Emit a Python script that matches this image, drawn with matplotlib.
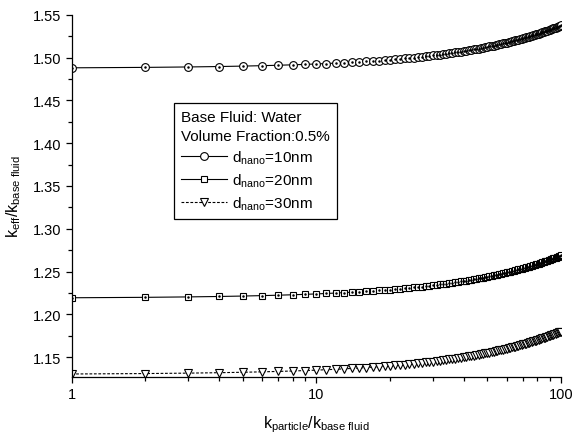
import matplotlib
matplotlib.use("Agg")
import matplotlib.pyplot as plt
from matplotlib.ticker import MultipleLocator, FixedLocator, NullFormatter

plt.rcParams["font.family"] = ["Liberation Sans", "DejaVu Sans"]
plt.rcParams["mathtext.fontset"] = "custom"
plt.rcParams["mathtext.rm"] = "Liberation Sans"
plt.rcParams["mathtext.it"] = "Liberation Sans"

# ── Data ─────────────────────────────────────────────────────────────────────
k_ratio = list(range(1, 101))

keff_10nm = [
    1.4880, 1.4885, 1.4890, 1.4895, 1.4900, 1.4905, 1.4910, 1.4915, 1.4920, 1.4925,
    1.4930, 1.4935, 1.4940, 1.4945, 1.4950, 1.4955, 1.4960, 1.4965, 1.4970, 1.4975,
    1.4980, 1.4985, 1.4990, 1.4995, 1.5000, 1.5005, 1.5010, 1.5015, 1.5020, 1.5025,
    1.5030, 1.5035, 1.5040, 1.5045, 1.5050, 1.5055, 1.5060, 1.5065, 1.5070, 1.5075,
    1.5080, 1.5085, 1.5090, 1.5095, 1.5100, 1.5105, 1.5110, 1.5115, 1.5120, 1.5125,
    1.5130, 1.5135, 1.5140, 1.5145, 1.5150, 1.5155, 1.5160, 1.5165, 1.5170, 1.5175,
    1.5180, 1.5185, 1.5190, 1.5195, 1.5200, 1.5205, 1.5210, 1.5215, 1.5220, 1.5225,
    1.5230, 1.5235, 1.5240, 1.5245, 1.5250, 1.5255, 1.5260, 1.5265, 1.5270, 1.5275,
    1.5280, 1.5285, 1.5290, 1.5295, 1.5300, 1.5305, 1.5310, 1.5315, 1.5320, 1.5325,
    1.5330, 1.5335, 1.5340, 1.5345, 1.5350, 1.5355, 1.5360, 1.5365, 1.5370, 1.5375,
]

keff_20nm = [
    1.2195, 1.2200, 1.2205, 1.2210, 1.2215, 1.2220, 1.2225, 1.2230, 1.2235, 1.2240,
    1.2245, 1.2250, 1.2255, 1.2260, 1.2265, 1.2270, 1.2275, 1.2280, 1.2285, 1.2290,
    1.2295, 1.2300, 1.2305, 1.2310, 1.2315, 1.2320, 1.2325, 1.2330, 1.2335, 1.2340,
    1.2345, 1.2350, 1.2355, 1.2360, 1.2365, 1.2370, 1.2375, 1.2380, 1.2385, 1.2390,
    1.2395, 1.2400, 1.2405, 1.2410, 1.2415, 1.2420, 1.2425, 1.2430, 1.2435, 1.2440,
    1.2445, 1.2450, 1.2455, 1.2460, 1.2465, 1.2470, 1.2475, 1.2480, 1.2485, 1.2490,
    1.2495, 1.2500, 1.2505, 1.2510, 1.2515, 1.2520, 1.2525, 1.2530, 1.2535, 1.2540,
    1.2545, 1.2550, 1.2555, 1.2560, 1.2565, 1.2570, 1.2575, 1.2580, 1.2585, 1.2590,
    1.2595, 1.2600, 1.2605, 1.2610, 1.2615, 1.2620, 1.2625, 1.2630, 1.2635, 1.2640,
    1.2645, 1.2650, 1.2655, 1.2660, 1.2665, 1.2670, 1.2675, 1.2680, 1.2685, 1.2690,
]

keff_30nm = [
    1.1305, 1.1310, 1.1315, 1.1320, 1.1325, 1.1330, 1.1335, 1.1340, 1.1345, 1.1350,
    1.1355, 1.1360, 1.1365, 1.1370, 1.1375, 1.1380, 1.1385, 1.1390, 1.1395, 1.1400,
    1.1405, 1.1410, 1.1415, 1.1420, 1.1425, 1.1430, 1.1435, 1.1440, 1.1445, 1.1450,
    1.1455, 1.1460, 1.1465, 1.1470, 1.1475, 1.1480, 1.1485, 1.1490, 1.1495, 1.1500,
    1.1505, 1.1510, 1.1515, 1.1520, 1.1525, 1.1530, 1.1535, 1.1540, 1.1545, 1.1550,
    1.1555, 1.1560, 1.1565, 1.1570, 1.1575, 1.1580, 1.1585, 1.1590, 1.1595, 1.1600,
    1.1605, 1.1610, 1.1615, 1.1620, 1.1625, 1.1630, 1.1635, 1.1640, 1.1645, 1.1650,
    1.1655, 1.1660, 1.1665, 1.1670, 1.1675, 1.1680, 1.1685, 1.1690, 1.1695, 1.1700,
    1.1705, 1.1710, 1.1715, 1.1720, 1.1725, 1.1730, 1.1735, 1.1740, 1.1745, 1.1750,
    1.1755, 1.1760, 1.1765, 1.1770, 1.1775, 1.1780, 1.1785, 1.1790, 1.1795, 1.1800,
]

labels = [r"d$_{\mathregular{nano}}$=10nm",
          r"d$_{\mathregular{nano}}$=20nm",
          r"d$_{\mathregular{nano}}$=30nm"]
y_ticks = [1.15, 1.20, 1.25, 1.30, 1.35, 1.40, 1.45, 1.50, 1.55]
x_ticks = [1, 10, 100]
x_ticklabels = ["1", "10", "100"]

# ── Figure ───────────────────────────────────────────────────────────────────
fig = plt.figure(figsize=(5.73, 4.39), dpi=100)
ax = fig.add_axes([0.1251, 0.139, 0.854, 0.8252])

LW = 0.8
MEW = 0.8
series = [
    (keff_10nm, "o", 5.6, "-", True),
    (keff_20nm, "s", 4.8, "-", True),
    (keff_30nm, "v", 6.0, (0, (2.5, 1.5)), False),
]
handles = []
for (ys, mk, ms, ls, dot), lab in zip(series, labels):
    h, = ax.plot(k_ratio, ys, color="black", lw=LW, ls=ls, marker=mk, ms=ms,
                 mfc="white", mec="black", mew=MEW, label=lab)
    if dot:
        ax.plot(k_ratio, ys, ls="none", marker=".", ms=1.6, color="black")
    handles.append(h)

ax.set_xscale("log")
ax.set_xlim(1, 100)
ax.set_ylim(1.127, 1.55)
ax.xaxis.set_major_locator(FixedLocator(x_ticks))
ax.set_xticklabels(x_ticklabels)
ax.xaxis.set_minor_locator(FixedLocator([2, 3, 4, 5, 6, 7, 8, 9,
                                          20, 30, 40, 50, 60, 70, 80, 90]))
ax.xaxis.set_minor_formatter(NullFormatter())
ax.yaxis.set_major_locator(FixedLocator(y_ticks))
ax.set_yticklabels([f"{v:.2f}" for v in y_ticks])
ax.yaxis.set_minor_locator(MultipleLocator(0.025))

for side in ["top", "right"]:
    ax.spines[side].set_visible(False)
for side in ["left", "bottom"]:
    ax.spines[side].set_linewidth(0.9)

ax.tick_params(which="major", direction="out", length=4.5, width=0.9,
               labelsize=10.5, pad=3)
ax.tick_params(which="minor", direction="out", length=2.8, width=0.9)

ax.set_xlabel(r"k$_{\mathregular{particle}}$/k$_{\mathregular{base\ fluid}}$",
              fontsize=11.5, labelpad=9)
ax.set_ylabel(r"k$_{\mathregular{eff}}$/k$_{\mathregular{base\ fluid}}$",
              fontsize=11.5, labelpad=7)

leg = ax.legend(handles=handles, labels=labels,
                title="Base Fluid: Water\nVolume Fraction:0.5%",
                title_fontsize=11, fontsize=11, alignment="left",
                loc="upper left", bbox_to_anchor=(0.2097, 0.7554),
                borderaxespad=0, frameon=True, fancybox=False,
                edgecolor="black", framealpha=1, handlelength=3.0,
                handletextpad=0.35, labelspacing=0.38, borderpad=0.45)
leg.get_title().set_linespacing(1.4)
leg.get_frame().set_linewidth(0.9)

fig.savefig("out.png", dpi=100)
